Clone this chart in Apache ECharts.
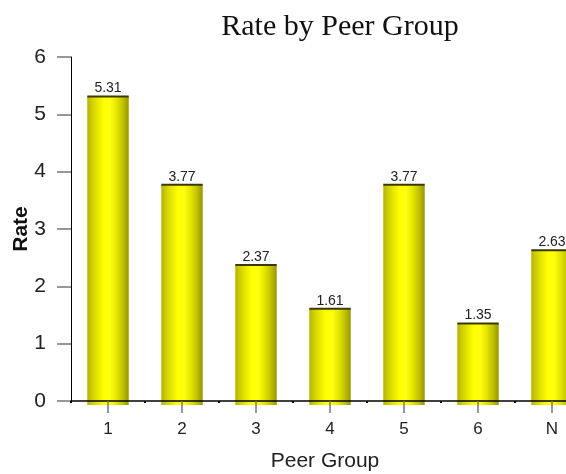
<!DOCTYPE html>
<html>
<head>
<meta charset="utf-8">
<script src="https://cdn.jsdelivr.net/npm/echarts@6/dist/echarts.min.js"></script>
<style>
  html, body { margin: 0; padding: 0; background: #fff; }
  #chart { width: 566px; height: 474px; }
</style>
</head>
<body>
<div id="chart"></div>
<script>
// Peer group rates
const categories = ['1', '2', '3', '4', '5', '6', 'N'];
const rates = [5.31, 3.77, 2.37, 1.61, 3.77, 1.35, 2.63];
const yTicks = [0, 1, 2, 3, 4, 5, 6];

const chart = echarts.init(document.getElementById('chart'), null, { renderer: 'canvas' });

// Cylinder-like shading across each bar
const barFill = new echarts.graphic.LinearGradient(0, 0, 1, 0, [
  { offset: 0.00, color: '#b4b400' },
  { offset: 0.10, color: '#cccc00' },
  { offset: 0.25, color: '#e8e800' },
  { offset: 0.40, color: '#ffff00' },
  { offset: 0.55, color: '#ffff10' },
  { offset: 0.70, color: '#e6e600' },
  { offset: 0.85, color: '#c4c400' },
  { offset: 1.00, color: '#969600' }
]);

function renderBar(params, api) {
  const idx = api.value(0);
  const val = api.value(1);
  const top = api.coord([idx, val]);
  const base = api.coord([idx, 0]);
  const bandW = api.size([1, 0])[0];
  const w = bandW * 0.56;
  const x = top[0] - w / 2;
  const baseExt = 4;
  return {
    type: 'group',
    children: [
      {
        type: 'rect',
        shape: { x: x, y: top[1], width: w, height: base[1] - top[1] + baseExt },
        style: { fill: barFill }
      },
      {
        type: 'line',
        shape: { x1: x, y1: top[1], x2: x + w, y2: top[1] },
        style: { stroke: '#3a3a00', lineWidth: 2 }
      },
      {
        type: 'text',
        x: top[0],
        y: top[1] - 1,
        style: {
          text: val.toFixed(2),
          fill: '#222',
          font: '14px Arial, "Liberation Sans", sans-serif',
          align: 'center',
          verticalAlign: 'bottom'
        }
      }
    ]
  };
}

const option = {
  backgroundColor: '#fff',
  animation: false,
  title: {
    text: 'Rate by Peer Group',
    left: 335,
    top: 7,
    textAlign: 'center',
    textStyle: {
      fontFamily: '"Liberation Serif", "Times New Roman", serif',
      fontSize: 30,
      fontWeight: 'normal',
      color: '#111'
    }
  },
  grid: { left: 71, top: 57, width: 518, height: 344, containLabel: false, outerBoundsMode: 'none' },
  xAxis: [
    {
      type: 'category',
      data: categories,
      name: 'Peer Group',
      nameLocation: 'middle',
      nameGap: 50,
      nameMoveOverlap: false,
      nameTextStyle: {
        fontFamily: 'Arial, "Liberation Sans", sans-serif',
        fontSize: 21,
        color: '#222',
        padding: [0, 10, 0, 0]
      },
      axisLine: { show: true, lineStyle: { color: '#000', width: 1.5 } },
      axisTick: { show: true, alignWithLabel: true, length: 12, lineStyle: { color: '#777', width: 1.5 } },
      axisLabel: { margin: 20, fontFamily: 'Arial, "Liberation Sans", sans-serif', fontSize: 17, color: '#222' },
      splitLine: { show: false },
      z: 5
    },
    {
      // small marks at the band boundaries
      type: 'category',
      data: categories,
      position: 'bottom',
      axisLine: { show: false },
      axisTick: { show: true, alignWithLabel: false, length: 2, lineStyle: { color: '#000', width: 2 } },
      axisLabel: { show: false },
      splitLine: { show: false }
    }
  ],
  yAxis: {
    type: 'value',
    min: yTicks[0],
    max: yTicks[yTicks.length - 1],
    interval: 1,
    name: 'Rate',
    nameLocation: 'middle',
    nameGap: 39,
    nameMoveOverlap: false,
    nameTextStyle: { fontFamily: 'Arial, "Liberation Sans", sans-serif', fontSize: 21, fontWeight: 'bold', color: '#111' },
    axisLine: { show: true, lineStyle: { color: '#000', width: 1 } },
    axisTick: { show: true, length: 14, lineStyle: { color: '#777', width: 1.5 } },
    axisLabel: { margin: 25, fontFamily: 'Arial, "Liberation Sans", sans-serif', fontSize: 21, color: '#222' },
    splitLine: { show: false }
  },
  series: [
    {
      type: 'custom',
      xAxisIndex: 0,
      renderItem: renderBar,
      encode: { x: 0, y: 1 },
      data: rates.map((v, i) => [i, v]),
      clip: false,
      z: 2
    }
  ]
};

chart.setOption(option);
</script>
</body>
</html>
